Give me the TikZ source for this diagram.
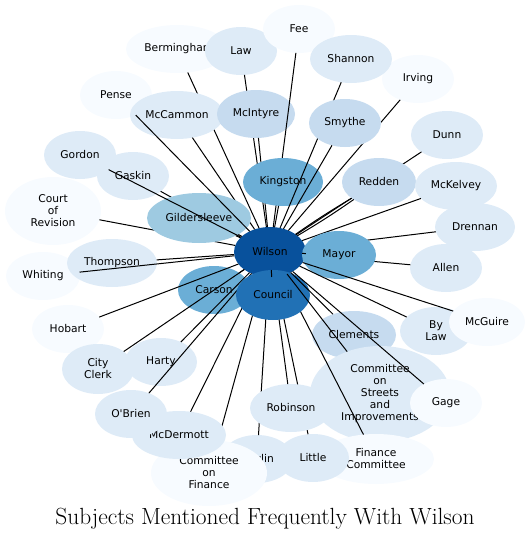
\documentclass[tikz,border=0pt]{standalone}
\usepackage{fontspec}
\usepackage{xcolor}
\usepackage{tikz}
\usetikzlibrary{shapes.geometric}
\newfontfamily\nodefont{DejaVu Sans}
\definecolor{blueA}{HTML}{F7FBFF}
\definecolor{blueB}{HTML}{DEEBF7}
\definecolor{blueC}{HTML}{C6DBEF}
\definecolor{blueD}{HTML}{9ECAE1}
\definecolor{blueE}{HTML}{6BAED6}
\definecolor{blueF}{HTML}{2171B5}
\definecolor{blueG}{HTML}{08519C}

\begin{document}
\begin{tikzpicture}[
    x=1pt, y=-1pt,
    base/.style={ellipse, draw=none, inner sep=0pt, outer sep=0pt, minimum width=72pt, minimum height=48pt, align=center, font={\nodefont\fontsize{10.7}{12}\selectfont}},
    lvlA/.style={base, fill=blueA},
    lvlB/.style={base, fill=blueB},
    lvlC/.style={base, fill=blueC},
    lvlD/.style={base, fill=blueD},
    lvlE/.style={base, fill=blueE},
    lvlF/.style={base, fill=blueF},
    lvlG/.style={base, fill=blueG},
    line/.style={draw=black, line width=1pt},
    title/.style={font={\fontsize{23.4}{26}\selectfont}}
]
\useasboundingbox (0,0) rectangle (530,541);

\node[lvlG, minimum height=50pt] (wil) at (270,252) {Wilson};

% upper left and top
\node[lvlA, minimum width=102pt] (ber) at (177,49) {Berminghan};
\draw[line] (wil) -- (ber);
\node[lvlB] (law) at (241,51) {Law};
\draw[line] (wil) -- (law);
\node[lvlA] (pen) at (116,95) {Pense};
\node[lvlB, minimum width=94pt] (mcc) at (177,115) {McCammon};
\draw[line] (wil) -- (mcc);
\node[lvlC, minimum width=78pt] (mci) at (256,114) {McIntyre};
\draw[line] (wil) -- (mci);
\node[lvlA] (fee) at (299,29) {Fee};
\draw[line] (wil) -- (fee);
\node[lvlE, minimum width=80pt] (kin) at (283,182) {Kingston};
\draw[line] (wil) -- (kin);
\node[lvlA] (irv) at (418,79) {Irving};
\draw[line] (wil) -- (irv);
\node[lvlB, minimum width=82pt] (sha) at (351,59) {Shannon};
\draw[line] (wil) -- (sha);
\node[lvlC] (smy) at (345,123) {Smythe};
\draw[line] (wil) -- (smy);

% right side
\node[lvlB] (dun) at (447,135) {Dunn};
\draw[line] (wil) -- (dun);
\node[lvlC, minimum width=74pt] (red) at (379,182) {Redden};
\draw[line] (wil) to[bend left=2] (red);
\draw[line] (wil) to[bend right=2] (red);
\node[lvlB, minimum width=82pt] (mck) at (456,186) {McKelvey};
\draw[line] (wil) -- (mck);
\node[lvlB, minimum width=80pt] (dre) at (475,227) {Drennan};
\draw[line] (wil) -- (dre);
\node[lvlB] (all) at (446,268) {Allen};
\draw[line] (wil) -- (all);
\node[lvlE, minimum width=74pt] (may) at (339,255) {Mayor};
\draw[line] (wil) -- (may);

% left side
\node[lvlB] (gor) at (80,155) {Gordon};
\node[lvlB] (gas) at (133,176) {Gaskin};
\draw[line] (wil) -- (gas);
\node[lvlA, minimum width=96pt, minimum height=68pt] (crt) at (53,211) {Court\\of\\Revision};
\draw[line] (wil) -- (crt);
\node[lvlD, minimum width=104pt, minimum height=50pt] (gil) at (199,218) {Gildersleeve};
\draw[line] (wil) -- (gil);
\draw[line] (wil) -- (gor);
\draw[line] (wil) -- (pen);
\node[lvlA, minimum width=74pt] (whi) at (43,276) {Whiting};
\node[lvlB, minimum width=90pt] (tho) at (112,263) {Thompson};
\draw[line] (wil) -- (tho);
\draw[line] (wil) -- (whi);

% lower left
\node[lvlE] (car) at (214,290) {Carson};
\draw[line] (wil) -- (car);
\node[lvlA] (hob) at (68,329) {Hobart};
\draw[line] (wil) -- (hob);
\node[lvlB, minimum height=50pt] (cit) at (98,369) {City\\Clerk};
\draw[line] (wil) -- (cit);
\node[lvlB] (har) at (161,362) {Harty};
\draw[line] (wil) -- (har);

% bottom
\node[lvlB] (dev) at (257,459) {Devlin};
\node[lvlA, minimum width=116pt, minimum height=66pt] (cof) at (209,473) {Committee\\on\\Finance};
\draw[line] (wil) -- (cof);
\draw[line] (wil) -- (dev);
\node[lvlB, minimum width=94pt] (mcd) at (179,435) {McDermott};
\draw[line] (wil) -- (mcd);
\node[lvlB] (obr) at (131,414) {O'Brien};
\draw[line] (wil) -- (obr);
\node[lvlC, minimum width=84pt] (cle) at (354,335) {Clements};
\node[lvlB, minimum width=140pt, minimum height=96pt] (cos) at (380,394) {Committee\\on\\Streets\\and\\Improvements};
\node[lvlA, minimum width=116pt, minimum height=50pt] (fin) at (376,459) {Finance\\Committee};
\draw[line] (wil) -- (fin);
\node[lvlB] (lit) at (313,458) {Little};
\draw[line] (wil) -- (lit);
\node[lvlB, minimum width=82pt] (rob) at (291,408) {Robinson};
\draw[line] (wil) -- (rob);
\node[lvlA] (gag) at (446,403) {Gage};
\node[lvlB] (byl) at (436,331) {By\\Law};
\node[lvlA, minimum width=76pt] (mcg) at (487,322) {McGuire};
\node[lvlF, minimum width=74pt, minimum height=50pt] (cou) at (273,295) {Council};
\draw[line] (wil) -- (cou);
\draw[line] (wil) -- (cle);
\draw[line] (wil) -- (cos);
\draw[line] (wil) -- (gag);
\draw[line] (wil) -- (byl);
\draw[line] (wil) -- (mcg);

\node[title] (head) at (265,519) {Subjects Mentioned Frequently With Wilson};
\end{tikzpicture}
\end{document}
